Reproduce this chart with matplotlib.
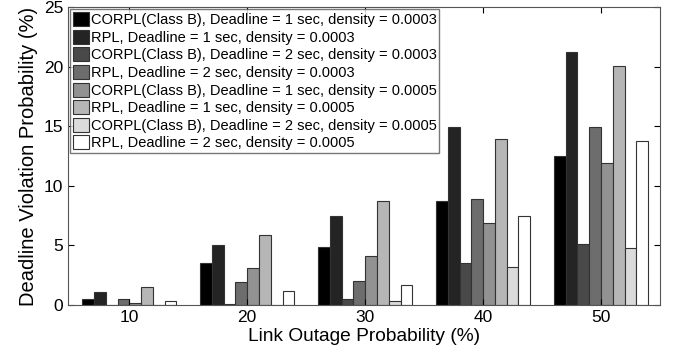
import numpy as np
import matplotlib.pyplot as plt

plt.rcParams['font.family'] = ['Liberation Sans', 'DejaVu Sans']

# link outage probability groups
groups = [10, 20, 30, 40, 50]

series_labels = [
    "CORPL(Class B), Deadline = 1 sec, density = 0.0003",
    "RPL, Deadline = 1 sec, density = 0.0003",
    "CORPL(Class B), Deadline = 2 sec, density = 0.0003",
    "RPL, Deadline = 2 sec, density = 0.0003",
    "CORPL(Class B), Deadline = 1 sec, density = 0.0005",
    "RPL, Deadline = 1 sec, density = 0.0005",
    "CORPL(Class B), Deadline = 2 sec, density = 0.0005",
    "RPL, Deadline = 2 sec, density = 0.0005",
]

corpl_1s_0003 = [0.5, 3.5, 4.9, 8.7, 12.5]
rpl_1s_0003 = [1.1, 5.0, 7.5, 14.9, 21.2]
corpl_2s_0003 = [0.0, 0.05, 0.5, 3.5, 5.1]
rpl_2s_0003 = [0.5, 1.9, 2.0, 8.9, 14.9]
corpl_1s_0005 = [0.2, 3.1, 4.1, 6.9, 11.9]
rpl_1s_0005 = [1.5, 5.9, 8.7, 13.9, 20.1]
corpl_2s_0005 = [0.0, 0.0, 0.35, 3.2, 4.8]
rpl_2s_0005 = [0.3, 1.2, 1.7, 7.5, 13.8]

series = [corpl_1s_0003, rpl_1s_0003, corpl_2s_0003, rpl_2s_0003,
          corpl_1s_0005, rpl_1s_0005, corpl_2s_0005, rpl_2s_0005]

fig = plt.figure(figsize=(6.82, 3.56), dpi=100)
ax = fig.add_axes([0.0997, 0.1433, 0.868, 0.8367])

n = len(series)
width = 1.0
grays = np.linspace(0, 1, n)
x = np.array(groups, dtype=float)
for i, (vals, lab) in enumerate(zip(series, series_labels)):
    offs = (i - (n - 1) / 2) * width
    c = str(grays[i])
    ax.bar(x + offs, vals, width=width, color=c, edgecolor='#333333',
           linewidth=0.8, label=lab)

ax.set_xlim(4.8, 55.0)
ax.set_ylim(0, 25)
ax.set_xticks(groups)
ax.set_yticks([0, 5, 10, 15, 20, 25])
ax.tick_params(direction='in', top=True, right=True, labelsize=12.5, length=4)
for s in ax.spines.values():
    s.set_color('#555555')
ax.set_xlabel("Link Outage Probability (%)", fontsize=13.8, labelpad=2)
ax.set_ylabel("Deadline Violation Probability (%)", fontsize=14.5, labelpad=4)

leg = ax.legend(loc='upper left', fontsize=10.5, frameon=True, fancybox=False,
                borderpad=0.2, labelspacing=0.18, handlelength=1.1,
                handleheight=1.1, handletextpad=0.1, borderaxespad=0.15)
leg.get_frame().set_edgecolor('#555555')
leg.get_frame().set_linewidth(1.0)

plt.savefig("out.png", dpi=100)
